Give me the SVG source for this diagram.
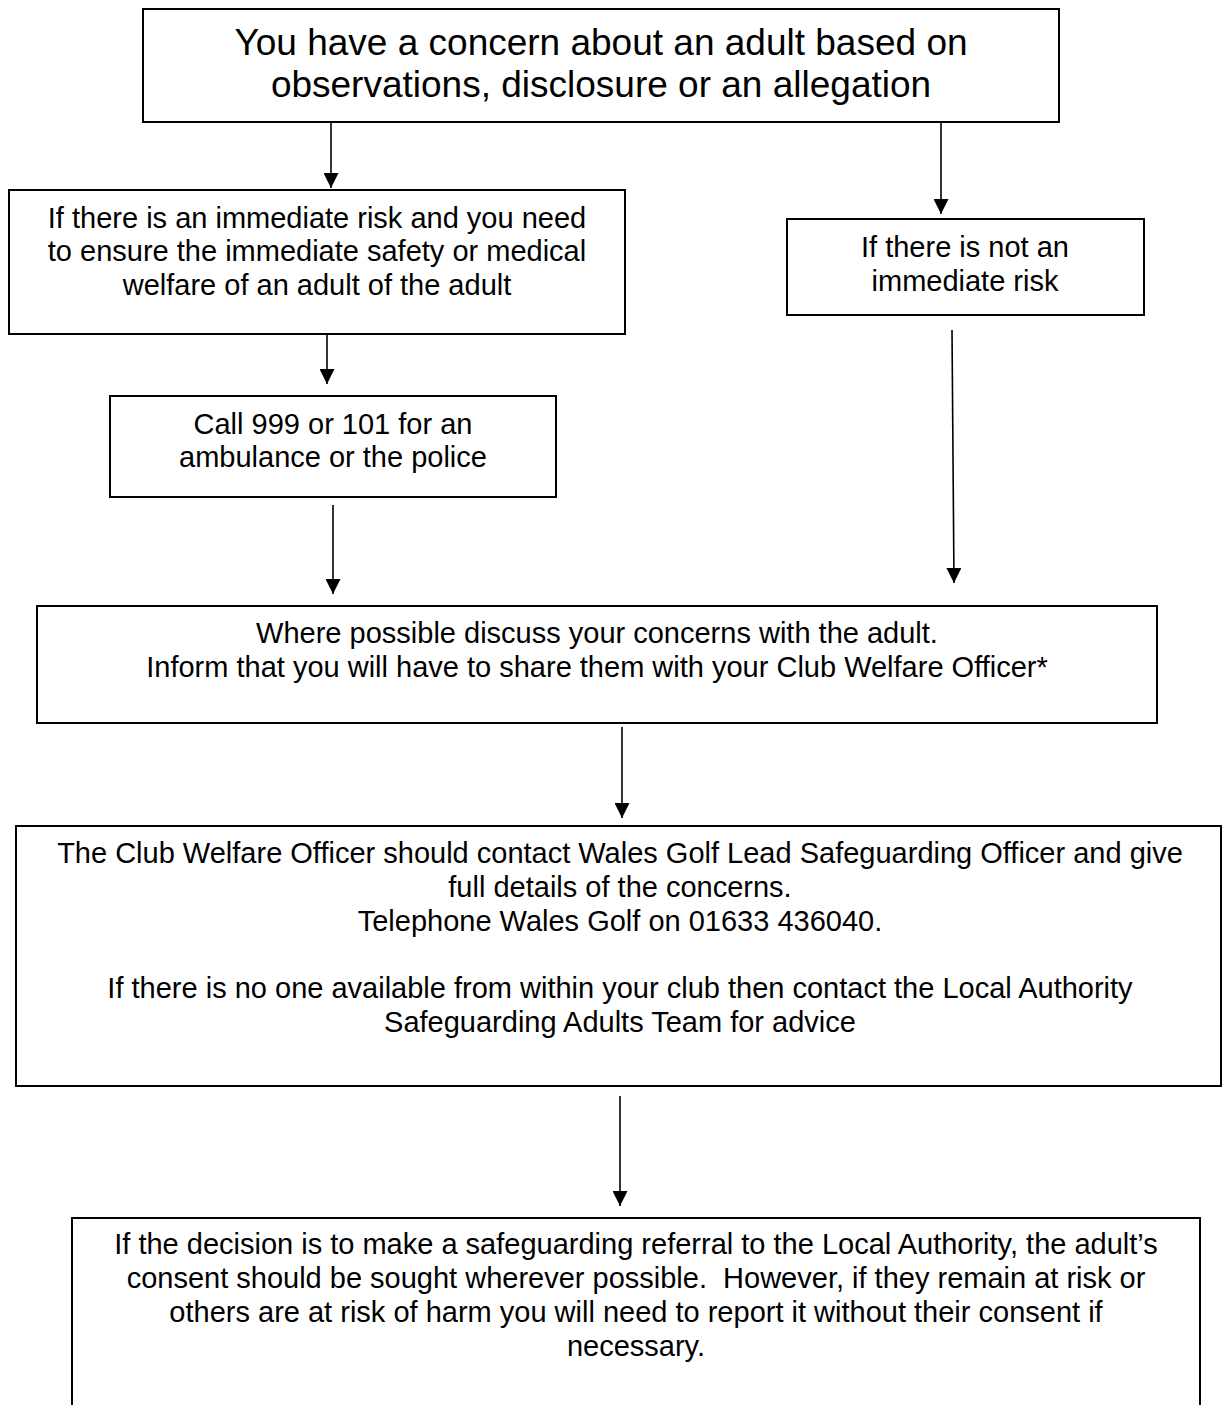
<svg xmlns="http://www.w3.org/2000/svg" width="1222" height="1405" viewBox="0 0 1222 1405">
<defs>
<style>
.box{fill:#fff;stroke:#000;stroke-width:2}
.t{font-family:"Liberation Sans",Arial,sans-serif;font-size:29px;fill:#000;text-anchor:middle;white-space:pre}
.big{font-size:37px}
.c{stroke:#000;stroke-width:1.6;fill:none;marker-end:url(#ah)}
</style>
<marker id="ah" viewBox="0 0 15 15" refX="15" refY="7.5" markerWidth="15" markerHeight="15" markerUnits="userSpaceOnUse" orient="auto">
<path d="M0,0 L15,7.5 L0,15 Z" fill="#000"/>
</marker>
</defs>
<rect width="1222" height="1405" fill="#fff"/>
<g id="connectors">
<line class="c" x1="331" y1="122" x2="331" y2="188"/>
<line class="c" x1="941" y1="122" x2="941" y2="214"/>
<line class="c" x1="327" y1="335" x2="327" y2="384"/>
<line class="c" x1="333" y1="505" x2="333" y2="594"/>
<line class="c" x1="952" y1="330" x2="954" y2="583"/>
<line class="c" x1="622" y1="727" x2="622" y2="818"/>
<line class="c" x1="620" y1="1096" x2="620" y2="1206"/>
</g>
<g id="concern">
<rect class="box" x="143" y="9" width="916" height="113"/>
<text class="t big" x="601" y="55">You have a concern about an adult based on</text>
<text class="t big" x="601" y="97">observations, disclosure or an allegation</text>
</g>
<g id="immediate">
<rect class="box" x="9" y="190" width="616" height="144"/>
<text class="t" x="317" y="228">If there is an immediate risk and you need</text>
<text class="t" x="317" y="261">to ensure the immediate safety or medical</text>
<text class="t" x="317" y="295">welfare of an adult of the adult</text>
</g>
<g id="not-immediate">
<rect class="box" x="787" y="219" width="357" height="96"/>
<text class="t" x="965" y="257">If there is not an</text>
<text class="t" x="965" y="291">immediate risk</text>
</g>
<g id="call">
<rect class="box" x="110" y="396" width="446" height="101"/>
<text class="t" x="333" y="434">Call 999 or 101 for an</text>
<text class="t" x="333" y="467">ambulance or the police</text>
</g>
<g id="discuss">
<rect class="box" x="37" y="606" width="1120" height="117"/>
<text class="t" x="597" y="643">Where possible discuss your concerns with the adult.</text>
<text class="t" x="597" y="677">Inform that you will have to share them with your Club Welfare Officer*</text>
</g>
<g id="welfare-officer">
<rect class="box" x="16" y="826" width="1205" height="260"/>
<text class="t" x="620" y="863">The Club Welfare Officer should contact Wales Golf Lead Safeguarding Officer and give</text>
<text class="t" x="620" y="897">full details of the concerns.</text>
<text class="t" x="620" y="931">Telephone Wales Golf on 01633 436040.</text>
<text class="t" x="620" y="998">If there is no one available from within your club then contact the Local Authority</text>
<text class="t" x="620" y="1032">Safeguarding Adults Team for advice</text>
</g>
<g id="referral">
<rect class="box" x="72" y="1218" width="1128" height="220"/>
<text class="t" x="636" y="1254">If the decision is to make a safeguarding referral to the Local Authority, the adult’s</text>
<text class="t" x="636" y="1288">consent should be sought wherever possible.  However, if they remain at risk or</text>
<text class="t" x="636" y="1322">others are at risk of harm you will need to report it without their consent if</text>
<text class="t" x="636" y="1356">necessary.</text>
</g>
</svg>
